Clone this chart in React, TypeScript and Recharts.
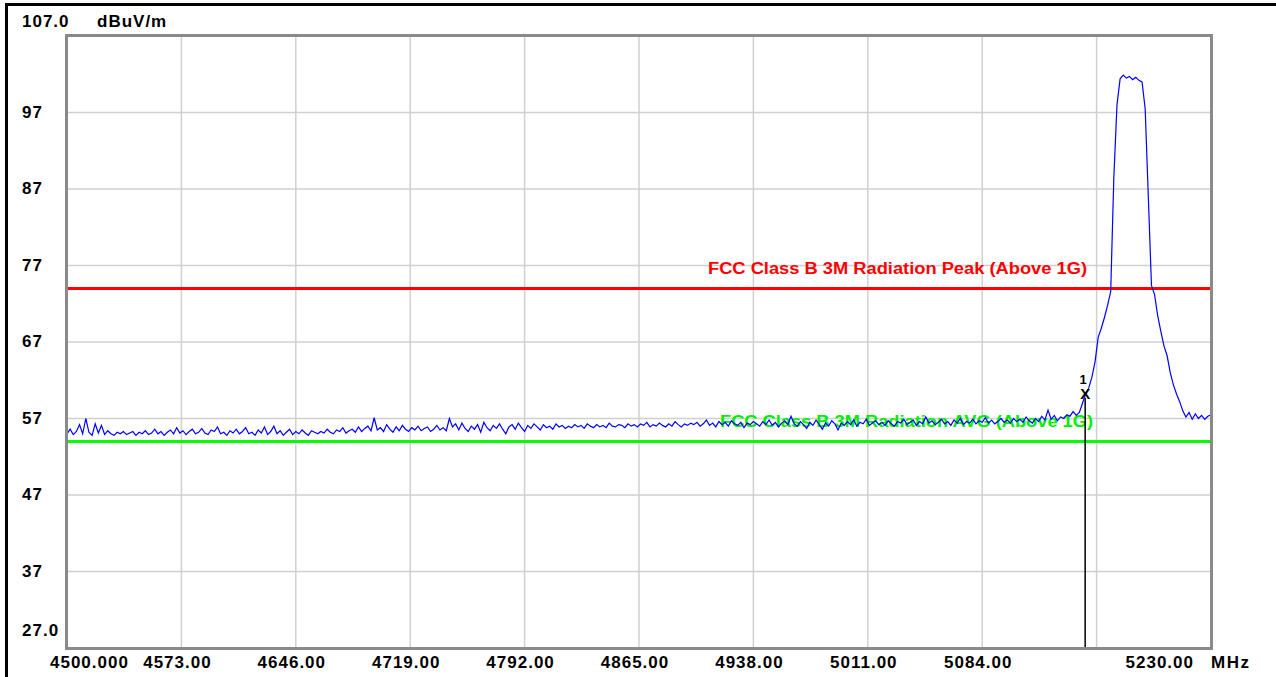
import {
  LineChart,
  Line,
  XAxis,
  YAxis,
  CartesianGrid,
  ReferenceLine,
  ReferenceDot,
} from "recharts"

// sweep 4500 - 5230 MHz, one reading every 2 MHz
const sweepStartMHz = 4500
const sweepStepMHz = 2

const traceLevels = [
  // 4500 - 4538
  55.0, 55.6, 54.9, 55.3, 56.2, 55.0, 57.0, 55.2, 54.8, 56.3, 55.1, 56.1, 54.9, 55.4, 55.0, 54.8, 55.2, 55.0, 55.3, 54.9,
  // 4540 - 4578
  55.1, 55.3, 54.8, 55.2, 55.0, 55.4, 54.9, 55.1, 55.6, 55.0, 55.3, 54.8, 55.2, 55.5, 55.0, 55.8, 55.1, 55.4, 54.9, 55.3,
  // 4580 - 4618
  55.6, 55.0, 55.2, 55.7, 55.1, 54.9, 55.5, 55.3, 55.9, 55.0, 55.2, 54.8, 55.4, 55.1, 55.6, 55.0, 55.3, 55.8, 55.0, 55.2,
  // 4620 - 4658
  54.8, 55.5, 55.1, 55.9, 54.9, 55.3, 56.0, 55.0, 55.4, 54.8, 55.2, 55.6, 54.9, 55.3, 55.0, 55.5, 55.1, 54.8, 55.4, 55.2,
  // 4660 - 4698
  55.0, 55.3, 55.1, 55.6, 55.2, 55.0, 55.5, 55.3, 55.8, 55.1, 55.4, 55.6, 55.2, 55.9, 55.3, 55.7, 56.0, 55.4, 57.1, 55.5,
  // 4700 - 4738
  55.8, 55.3, 56.2, 55.6, 55.2, 55.9, 55.4, 56.1, 55.6, 55.3, 55.8, 55.5, 56.0, 55.4, 55.7, 55.9, 55.3, 55.6, 56.1, 55.5,
  // 4740 - 4778
  55.8, 55.4, 57.0, 55.9, 56.3, 55.5, 56.4, 55.7, 55.3, 56.0, 55.6, 56.2, 55.2, 56.5, 55.8, 55.4, 56.1, 55.7, 56.3, 55.6,
  // 4780 - 4818
  55.0, 55.9, 56.2, 55.6, 56.4, 55.8, 55.3, 56.1, 55.7, 56.3, 55.9, 55.5, 56.2, 55.8, 56.0, 55.6, 56.3, 55.9, 56.1, 55.7,
  // 4820 - 4858
  56.0, 55.8, 56.2, 55.9, 56.1, 55.7, 56.3, 56.0, 55.8, 56.2, 55.9, 56.1, 55.8, 56.4, 56.0, 55.9, 56.2, 56.1, 55.8, 56.3,
  // 4860 - 4898
  56.0, 56.2, 55.9, 56.3, 56.1, 56.5, 55.9, 56.2, 56.0, 56.4, 56.1, 55.9, 56.3, 56.0, 56.6, 56.2, 55.9, 56.3, 56.1, 56.4,
  // 4900 - 4938
  56.2, 56.5, 56.0, 56.3, 56.8, 56.1, 56.4, 55.9, 56.6, 56.2, 56.5, 56.0, 56.7, 56.3, 56.1, 56.5, 55.8, 56.4, 56.2, 56.6,
  // 4940 - 4978
  56.3, 56.0, 56.6, 56.2, 56.8, 56.1, 56.5, 55.9, 56.4, 56.7, 56.2, 57.3, 56.3, 56.0, 56.6, 56.2, 55.7, 56.5, 56.1, 56.8,
  // 4980 - 5018
  56.2, 55.6, 56.4, 56.0, 56.7, 56.3, 55.5, 56.4, 56.1, 56.6, 56.2, 56.8, 56.0, 56.5, 56.3, 56.9, 56.1, 56.4, 56.7, 56.2,
  // 5020 - 5058
  56.5, 56.1, 56.7, 56.3, 56.0, 56.6, 56.4, 56.9, 56.2, 56.5, 56.8, 56.1, 56.6, 56.3, 57.2, 56.4, 56.7, 56.2, 56.5, 56.9,
  // 5060 - 5098
  56.3, 56.6, 56.1, 56.8, 56.4, 57.0, 56.2, 56.6, 56.4, 56.9, 56.3, 56.7, 56.5, 57.1, 56.4, 56.8, 56.3, 56.6, 57.0, 56.5,
  // 5100 - 5138
  56.8, 56.4, 57.0, 56.6, 56.9, 56.5, 57.2, 56.7, 56.4, 57.0, 56.6, 57.3, 56.8, 58.1, 56.9, 57.4, 56.7, 57.2, 57.0, 57.5,
  // 5140 - 5178
  57.3, 57.9, 57.4, 57.8, 59.0, 60.2, 61.0, 62.4, 64.4, 67.6, 68.8, 70.2, 71.8, 73.6, 88.5, 98.0, 101.4, 101.9, 101.5, 101.7,
  // 5180 - 5218
  101.3, 101.6, 101.2, 101.0, 97.5, 86.0, 74.4, 73.2, 70.4, 68.4, 66.5, 65.2, 63.0, 61.4, 60.2, 59.2, 58.0, 57.2, 57.8, 56.9,
  // 5220 - 5230
  57.6, 57.0, 57.4, 56.9, 57.3, 57.5,
]

const frequencyTicks = [4500, 4573, 4646, 4719, 4792, 4865, 4938, 5011, 5084, 5157, 5230]
const frequencyTickLabels = [
  "4500.000", "4573.00", "4646.00", "4719.00", "4792.00", "4865.00",
  "4938.00", "5011.00", "5084.00", "", "5230.00",
]

const levelTicks = [27, 37, 47, 57, 67, 77, 87, 97, 107]
const levelTickLabels = ["27.0", "37", "47", "57", "67", "77", "87", "97", "107.0"]

const peakLimit = 74
const avgLimit = 54
const peakLimitName = "FCC Class B 3M Radiation Peak (Above 1G)"
const avgLimitName = "FCC Class B 3M Radiation AVG (Above 1G)"

const markerFreq = 5149.7
const markerLevel = 60.3

const traceData = traceLevels.map((level, i) => ({
  freq: sweepStartMHz + i * sweepStepMHz,
  level,
}))

const font = "'Liberation Sans', Arial, sans-serif"

function FreqTick(props: any) {
  const { x, payload } = props
  const idx = frequencyTicks.indexOf(payload.value)
  const label = frequencyTickLabels[idx]
  const first = idx === 0
  const last = idx === frequencyTicks.length - 1
  return (
    <g>
      <text
        x={first ? x - 17 : last ? x - 17 : x - 4}
        y={668}
        textAnchor={first ? "start" : last ? "end" : "middle"}
        fontFamily={font}
        fontWeight="bold"
        fontSize={17}
        letterSpacing={1}
        fill="#000"
      >
        {label}
      </text>
      {last && (
        <text x={x} y={668} fontFamily={font} fontWeight="bold" fontSize={17} letterSpacing={1.5} fill="#000">
          MHz
        </text>
      )}
    </g>
  )
}

function LevelTick(props: any) {
  const { y, payload } = props
  const idx = levelTicks.indexOf(payload.value)
  const label = levelTickLabels[idx]
  let ty = y + 5
  if (payload.value === 107) ty = y - 9
  if (payload.value === 27) ty = y - 12
  return (
    <g>
      <text x={22} y={ty} fontFamily={font} fontWeight="bold" fontSize={17} letterSpacing={1} fill="#000">
        {label}
      </text>
      {payload.value === 107 && (
        <text x={97} y={ty} fontFamily={font} fontWeight="bold" fontSize={17} letterSpacing={1} fill="#000">
          dBuV/m
        </text>
      )}
    </g>
  )
}

function LimitLabel(props: any) {
  const { viewBox, text, color, rightGap, width } = props
  if (!viewBox) return null
  const right = viewBox.x + viewBox.width - rightGap
  return (
    <text
      x={right - width}
      y={viewBox.y - 14}
      textLength={width}
      lengthAdjust="spacingAndGlyphs"
      fontFamily={font}
      fontWeight="bold"
      fontSize={16}
      fill={color}
    >
      {text}
    </text>
  )
}

function MarkerShape(props: any) {
  const { cx, cy } = props
  if (cx === undefined || cy === undefined) return null
  return (
    <g>
      <text x={cx} y={cy + 6} textAnchor="middle" fontFamily={font} fontWeight="bold" fontSize={15} fill="#000">
        X
      </text>
      <text x={cx - 2} y={cy - 9} textAnchor="middle" fontFamily={font} fontWeight="bold" fontSize={13} fill="#000">
        1
      </text>
    </g>
  )
}

export default function App() {
  return (
    <div
      style={{
        position: "absolute",
        left: 0,
        top: 0,
        width: 1276,
        height: 677,
        background: "#fff",
        overflow: "hidden",
      }}
    >
      <div
        style={{
          position: "absolute",
          left: 5,
          top: 3,
          width: 1400,
          height: 800,
          borderLeft: "3px solid #000",
          borderTop: "3px solid #000",
        }}
      />
      <LineChart
        width={1276}
        height={677}
        data={traceData}
        margin={{ top: 36, right: 65, bottom: 0, left: 7 }}
        style={{ position: "absolute", left: 0, top: 0 }}
      >
        <CartesianGrid stroke="#d0d0d0" strokeWidth={1.5} />
        <XAxis
          dataKey="freq"
          type="number"
          domain={[4500, 5230]}
          ticks={frequencyTicks}
          interval={0}
          height={29}
          axisLine={false}
          tickLine={false}
          tick={<FreqTick />}
        />
        <YAxis
          type="number"
          domain={[27, 107]}
          ticks={levelTicks}
          interval={0}
          width={60}
          axisLine={false}
          tickLine={false}
          tick={<LevelTick />}
        />
        <ReferenceLine
          y={peakLimit}
          stroke="#ff0000"
          strokeWidth={3}
          label={<LimitLabel text={peakLimitName} color="#ff0000" rightGap={124} width={379} />}
        />
        <ReferenceLine
          y={avgLimit}
          stroke="#00ff00"
          strokeWidth={3}
          label={<LimitLabel text={avgLimitName} color="#00ee00" rightGap={118} width={373} />}
        />
        <ReferenceLine
          segment={[
            { x: markerFreq, y: 27 },
            { x: markerFreq, y: markerLevel - 0.6 },
          ]}
          stroke="#000"
          strokeWidth={1.5}
        />
        <Line
          type="linear"
          dataKey="level"
          stroke="#0000ff"
          strokeWidth={1.2}
          dot={false}
          isAnimationActive={false}
        />
        <ReferenceDot x={markerFreq} y={markerLevel} shape={<MarkerShape />} />
      </LineChart>
      <div
        style={{
          position: "absolute",
          left: 65,
          top: 34,
          width: 1148,
          height: 616,
          border: "3px solid #8a8a8a",
          boxSizing: "border-box",
          pointerEvents: "none",
        }}
      />
    </div>
  )
}
